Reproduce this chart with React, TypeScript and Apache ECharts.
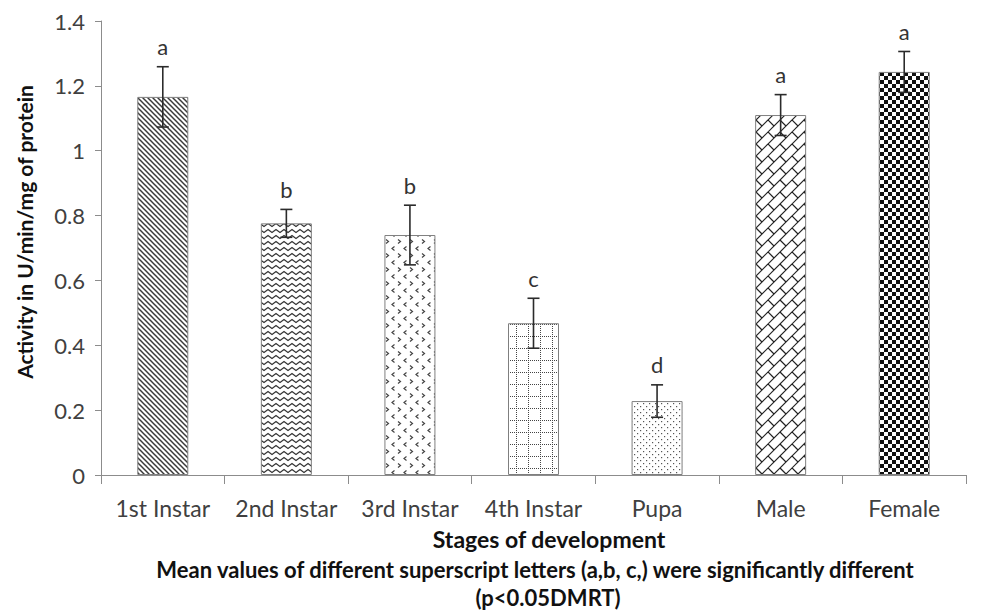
import React, { useEffect, useRef } from "react";
import * as echarts from "echarts";

const categories = ["1st Instar", "2nd Instar", "3rd Instar", "4th Instar", "Pupa", "Male", "Female"];
const means = [1.166, 0.776, 0.74, 0.468, 0.228, 1.11, 1.243];
const errors = [0.093, 0.043, 0.092, 0.077, 0.05, 0.063, 0.063];
const letters = ["a", "b", "b", "c", "d", "a", "a"];
const yTicks = { min: 0, max: 1.4, interval: 0.2 };

const FONT = "Lato, 'Liberation Sans', sans-serif";

function tile(w: number, h: number, draw: (ctx: CanvasRenderingContext2D) => void) {
  const c = document.createElement("canvas");
  c.width = w;
  c.height = h;
  const ctx = c.getContext("2d")!;
  ctx.fillStyle = "#ffffff";
  ctx.fillRect(0, 0, w, h);
  draw(ctx);
  return { image: c, repeat: "repeat", imageWidth: w, imageHeight: h } as any;
}

function makePatterns() {
  const p1 = tile(5, 5, (ctx) => {
    ctx.strokeStyle = "#3a3a3a";
    ctx.lineWidth = 1.5;
    for (let k = -2; k <= 2; k++) {
      ctx.beginPath();
      ctx.moveTo(-1, 5 * k - 1);
      ctx.lineTo(6, 5 * k + 6);
      ctx.stroke();
    }
  });
  const p2 = tile(8, 6, (ctx) => {
    ctx.strokeStyle = "#333";
    ctx.lineWidth = 1.2;
    ctx.beginPath();
    ctx.moveTo(-4, 1.5);
    ctx.lineTo(0, 4.5);
    ctx.lineTo(4, 1.5);
    ctx.lineTo(8, 4.5);
    ctx.lineTo(12, 1.5);
    ctx.stroke();
  });
  const p3 = tile(12, 14, (ctx) => {
    ctx.strokeStyle = "#444";
    ctx.lineWidth = 1.2;
    ctx.beginPath();
    ctx.moveTo(2, 1.5);
    ctx.lineTo(4.5, 3.5);
    ctx.lineTo(2, 5.5);
    ctx.stroke();
    ctx.beginPath();
    ctx.moveTo(10.5, 8.5);
    ctx.lineTo(8, 10.5);
    ctx.lineTo(10.5, 12.5);
    ctx.stroke();
  });
  const p4 = tile(12, 12, (ctx) => {
    ctx.fillStyle = "#444";
    for (let i = 0; i < 12; i += 2) {
      ctx.fillRect(i, 0, 1, 1);
      ctx.fillRect(0, i, 1, 1);
    }
  });
  const p5 = tile(6, 6, (ctx) => {
    ctx.fillStyle = "#555";
    ctx.fillRect(1, 1, 1.2, 1.2);
    ctx.fillRect(4, 4, 1.2, 1.2);
  });
  const p6 = tile(24, 24, (ctx) => {
    ctx.strokeStyle = "#222";
    ctx.lineWidth = 1.2;
    const S = 12;
    for (let k = -2; k <= 6; k++) {
      ctx.beginPath();
      ctx.moveTo(S * k + 2, -2);
      ctx.lineTo(S * k - 26, 26);
      ctx.stroke();
    }
    for (let k = -3; k <= 6; k++) {
      const off = ((k % 2) + 2) % 2 === 0 ? 0 : S;
      for (let c = -48 + off; c <= 48; c += 2 * S) {
        const x = (S * k + c) / 2;
        const y = (S * k - c) / 2;
        ctx.beginPath();
        ctx.moveTo(x, y);
        ctx.lineTo(x + S / 2, y + S / 2);
        ctx.stroke();
      }
    }
  });
  const p7 = tile(8, 8, (ctx) => {
    ctx.fillStyle = "#111";
    ctx.fillRect(0, 0, 4, 4);
    ctx.fillRect(4, 4, 4, 4);
  });
  return [p1, p2, p3, p4, p5, p6, p7];
}

export default function App() {
  const ref = useRef<HTMLDivElement>(null);
  useEffect(() => {
    if (!ref.current) return;
    const chart = echarts.init(ref.current, null, { renderer: "svg" });
    const patterns = makePatterns();
    const titleStyle = {
      fontSize: 22,
      fontWeight: "bold",
      fontFamily: FONT,
      fill: "#111",
      align: "center",
      verticalAlign: "middle",
    };
    const option: any = {
      animation: false,
      backgroundColor: "#ffffff",
      grid: { left: 101, right: 16, top: 21, bottom: 136, containLabel: false },
      xAxis: {
        type: "category",
        data: categories,
        axisLine: { lineStyle: { color: "#8c8c8c", width: 1 } },
        axisTick: { show: true, length: 9, lineStyle: { color: "#8c8c8c" } },
        axisLabel: { color: "#404040", fontSize: 23, fontFamily: FONT, margin: 21, interval: 0 },
      },
      yAxis: {
        type: "value",
        min: yTicks.min,
        max: yTicks.max,
        interval: yTicks.interval,
        axisLine: { show: true, lineStyle: { color: "#8c8c8c", width: 1 } },
        axisTick: { show: true, length: 6, lineStyle: { color: "#8c8c8c" } },
        splitLine: { show: false },
        axisLabel: {
          color: "#404040",
          fontSize: 22,
          fontFamily: FONT,
          margin: 16,
          formatter: (v: number) => String(Math.round(v * 10) / 10),
        },
      },
      series: [
        {
          type: "bar",
          barWidth: 51,
          data: means.map((v, i) => ({
            value: v,
            itemStyle: { color: patterns[i], borderColor: "#7f7f7f", borderWidth: 1 },
          })),
        },
        {
          type: "custom",
          data: means.map((v, i) => [i, v, errors[i], letters[i]]),
          renderItem: (params: any, api: any) => {
            const i = api.value(0);
            const m = api.value(1);
            const e = api.value(2);
            const top = api.coord([i, m + e]);
            const bot = api.coord([i, m - e]);
            const cap = 6;
            const st = { stroke: "#2b2b2b", lineWidth: 1.6 };
            return {
              type: "group",
              children: [
                { type: "line", shape: { x1: top[0], y1: top[1], x2: bot[0], y2: bot[1] }, style: st },
                { type: "line", shape: { x1: top[0] - cap, y1: top[1], x2: top[0] + cap, y2: top[1] }, style: st },
                { type: "line", shape: { x1: bot[0] - cap, y1: bot[1], x2: bot[0] + cap, y2: bot[1] }, style: st },
                {
                  type: "text",
                  x: top[0],
                  y: top[1] - 20,
                  style: {
                    text: letters[params.dataIndex],
                    fontSize: 22,
                    fontFamily: FONT,
                    fill: "#333",
                    align: "center",
                    verticalAlign: "middle",
                  },
                },
              ],
            };
          },
          z: 5,
        },
      ],
      graphic: [
        {
          type: "text",
          x: 24,
          y: 232,
          rotation: Math.PI / 2,
          style: { ...titleStyle, fontSize: 21, text: "Activity in U/min/mg of protein" },
        },
        { type: "text", x: 549, y: 539, style: { ...titleStyle, fontSize: 23, text: "Stages of development" } },
        {
          type: "text",
          x: 535,
          y: 569,
          style: {
            ...titleStyle,
            text: "Mean values of different superscript letters (a,b, c,) were significantly different",
          },
        },
        { type: "text", x: 548, y: 597, style: { ...titleStyle, text: "(p<0.05DMRT)" } },
      ],
    };
    chart.setOption(option);
    return () => chart.dispose();
  }, []);
  return <div ref={ref} style={{ width: 982, height: 611, position: "absolute", left: 0, top: 0 }} />;
}
